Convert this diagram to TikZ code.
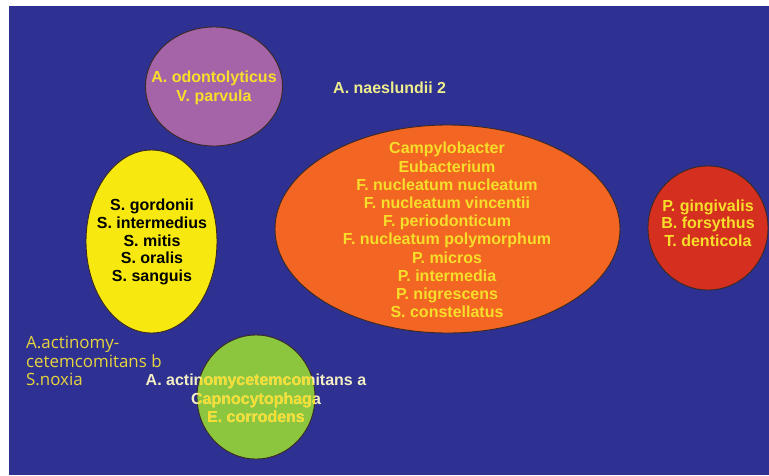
\documentclass[tikz,border=0pt]{standalone}
\usepackage{fontspec}
\setmainfont{Liberation Sans}
\newfontfamily\leftfont{Open Sans}
\usetikzlibrary{shapes.geometric}
\definecolor{bgblue}{HTML}{2E3192}
\definecolor{cpurple}{HTML}{A564A8}
\definecolor{cyellow}{HTML}{F7E910}
\definecolor{corange}{HTML}{F26522}
\definecolor{cred}{HTML}{D5301F}
\definecolor{cgreen}{HTML}{8CC63E}
\definecolor{txtyellow}{HTML}{F7DE2A}
\definecolor{txtpale}{HTML}{EFEE8C}
\definecolor{txtcream}{HTML}{F2EDC4}
\definecolor{txtleft}{HTML}{E8D43E}
\definecolor{rim}{HTML}{3A2A22}
\tikzset{
  blob/.style={ellipse, draw=rim, line width=0.9pt, inner sep=0pt},
  boldtxt/.style={font=\bfseries\fontsize{16}{18.2}\selectfont, align=center, inner sep=0pt}
}
\begin{document}
\begin{tikzpicture}[x=1pt,y=-1pt]
\useasboundingbox (0,0) rectangle (769,475);
\fill[white] (0,0) rectangle (769,475);
\fill[bgblue] (9,6) rectangle (769,475);

% shapes
\node[blob, fill=cpurple, minimum width=137pt, minimum height=119pt] (purple) at (214,86.5) {};
\node[blob, fill=cyellow, minimum width=131pt, minimum height=183pt] (yellow) at (151.5,241.5) {};
\node[blob, fill=corange, minimum width=345pt, minimum height=208pt] (orange) at (447.5,229) {};
\node[blob, fill=cred, minimum width=120pt, minimum height=124pt] (red) at (708,228) {};
\node[blob, fill=cgreen, minimum width=118pt, minimum height=124pt] (green) at (256,397) {};

% texts
\node[boldtxt, text=txtyellow, font=\bfseries\fontsize{16}{19}\selectfont] (purpletxt) at (214,87.5)
  {A. odontolyticus\\V. parvula};
\node[boldtxt, text=txtpale, anchor=west] (naes) at (333,88) {A. naeslundii 2};
\node[boldtxt, text=black, font=\bfseries\fontsize{16}{17.6}\selectfont] (yellowtxt) at (152,242)
  {S. gordonii\\S. intermedius\\S. mitis\\S. oralis\\S. sanguis};
\node[boldtxt, text=txtyellow] (orangetxt) at (447,230)
  {Campylobacter\\Eubacterium\\F. nucleatum nucleatum\\F. nucleatum vincentii\\F. periodonticum\\F. nucleatum polymorphum\\P. micros\\P. intermedia\\P. nigrescens\\S. constellatus};
\node[boldtxt, text=txtyellow, font=\bfseries\fontsize{16}{17.6}\selectfont] (redtxt) at (708,223)
  {P. gingivalis\\B. forsythus\\T. denticola};

\node[boldtxt, text=txtcream, font=\bfseries\fontsize{16}{18.5}\selectfont] (gtext) at (256,398.5)
  {A. actinomycetemcomitans a\\Capnocytophaga\\E. corrodens};
\begin{scope}
  \clip (256,397) ellipse [x radius=58.5pt, y radius=61.5pt];
  \node[boldtxt, text=txtyellow, font=\bfseries\fontsize{16}{18.5}\selectfont] (gtextin) at (256,398.5)
    {A. actinomycetemcomitans a\\Capnocytophaga\\E. corrodens};
\end{scope}

\node[anchor=west, align=left, inner sep=0pt, text=txtleft,
      font=\leftfont\fontsize{16.9}{18.5}\selectfont] (lefttxt) at (26,361)
  {A.actinomy-\\cetemcomitans b\\S.noxia};
\end{tikzpicture}
\end{document}
